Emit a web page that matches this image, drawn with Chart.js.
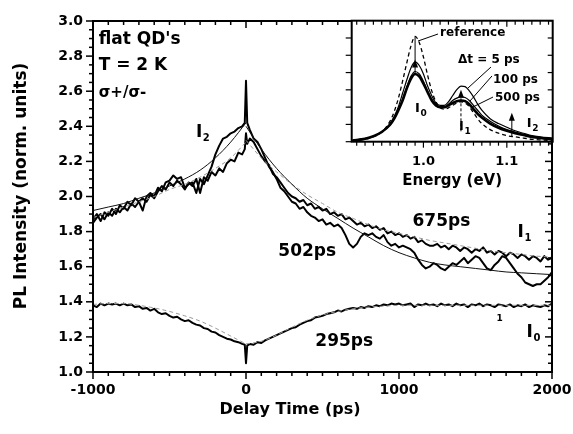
<!DOCTYPE html>
<html><head><meta charset="utf-8">
<script src="https://cdn.jsdelivr.net/npm/chart.js@4.4.1/dist/chart.umd.min.js"></script>
<style>
html,body{margin:0;padding:0;background:#fff;}
#wrap{position:relative;width:573px;height:434px;overflow:hidden;}
#main{position:absolute;left:0;top:0;}
#inset{position:absolute;left:330px;top:0;}
</style></head><body>
<div id="wrap"><canvas id="main" width="573" height="434"></canvas><canvas id="inset" width="243" height="200"></canvas></div>
<script>
// ---------------- main panel data ----------------
const delayTimes = [
-1000,-975,-950,-925,-900,-875,-850,-825,-800,-775,
-750,-725,-700,-675,-650,-625,-600,-575,-550,-525,
-500,-475,-450,-425,-400,-375,-350,-325,-300,-275,
-250,-225,-200,-175,-150,-125,-100,-75,-50,-25,
-8,0,8,
25,50,75,100,125,150,175,200,225,250,
275,300,325,350,375,400,425,450,475,500,
525,550,575,600,625,650,675,700,725,750,
775,800,825,850,875,900,925,950,975,1000,
1025,1050,1075,1100,1125,1150,1175,1200,1225,1250,
1275,1300,1325,1350,1375,1400,1425,1450,1475,1500,
1525,1550,1575,1600,1625,1650,1675,1700,1725,1750,
1775,1800,1825,1850,1875,1900,1925,1950,1975,2000];

const intensityI2 = [
1.87,1.90,1.86,1.91,1.89,1.93,1.90,1.95,1.93,1.97,
1.95,1.99,1.97,1.92,2.00,2.02,2.00,2.05,2.03,2.08,
2.09,2.12,2.10,2.11,2.05,2.07,2.08,2.02,2.10,2.07,
2.12,2.17,2.24,2.29,2.33,2.34,2.36,2.37,2.39,2.40,
2.42,2.66,2.42,
2.38,2.33,2.31,2.27,2.22,2.17,2.14,2.10,2.05,2.03,
2.00,1.97,1.96,1.93,1.94,1.91,1.89,1.88,1.86,1.87,
1.84,1.85,1.83,1.84,1.82,1.78,1.73,1.71,1.73,1.77,
1.79,1.78,1.79,1.77,1.76,1.78,1.74,1.72,1.73,1.71,
1.72,1.71,1.70,1.68,1.64,1.61,1.59,1.60,1.62,1.61,
1.59,1.58,1.60,1.62,1.61,1.63,1.65,1.62,1.64,1.66,
1.65,1.62,1.59,1.58,1.61,1.63,1.66,1.65,1.62,1.59,
1.56,1.54,1.51,1.50,1.49,1.50,1.50,1.52,1.54,1.57];

const intensityI1 = [
1.85,1.88,1.90,1.87,1.91,1.89,1.93,1.91,1.94,1.92,
1.96,1.94,1.97,1.99,1.97,2.01,1.99,2.03,2.06,2.04,
2.08,2.06,2.09,2.07,2.04,2.08,2.06,2.10,2.02,2.11,
2.09,2.14,2.12,2.16,2.14,2.19,2.21,2.20,2.25,2.24,
2.27,2.36,2.30,
2.33,2.31,2.27,2.23,2.20,2.18,2.13,2.11,2.08,2.05,
2.02,2.00,1.99,1.97,1.98,1.95,1.96,1.93,1.94,1.92,
1.93,1.90,1.91,1.89,1.90,1.87,1.88,1.86,1.84,1.85,
1.83,1.84,1.82,1.83,1.81,1.82,1.79,1.80,1.78,1.79,
1.77,1.78,1.76,1.77,1.74,1.75,1.73,1.72,1.72,1.73,
1.71,1.72,1.70,1.72,1.71,1.69,1.71,1.70,1.68,1.70,
1.69,1.71,1.68,1.69,1.67,1.69,1.68,1.66,1.68,1.67,
1.65,1.67,1.66,1.64,1.66,1.65,1.63,1.66,1.64,1.65];

const intensityI0 = [
1.38,1.37,1.39,1.38,1.39,1.385,1.39,1.38,1.39,1.38,
1.385,1.37,1.375,1.36,1.365,1.35,1.36,1.34,1.33,1.335,
1.32,1.31,1.315,1.30,1.29,1.295,1.28,1.27,1.265,1.25,
1.245,1.23,1.225,1.21,1.20,1.19,1.185,1.175,1.17,1.16,
1.155,1.05,1.15,
1.16,1.155,1.17,1.165,1.18,1.19,1.20,1.21,1.22,1.23,
1.24,1.25,1.255,1.27,1.28,1.29,1.295,1.31,1.315,1.32,
1.33,1.335,1.34,1.35,1.345,1.355,1.36,1.365,1.36,1.37,
1.365,1.375,1.37,1.38,1.375,1.385,1.38,1.39,1.385,1.39,
1.38,1.385,1.39,1.37,1.385,1.38,1.39,1.38,1.385,1.375,
1.39,1.38,1.385,1.375,1.39,1.38,1.385,1.37,1.385,1.38,
1.39,1.375,1.385,1.38,1.37,1.385,1.38,1.375,1.385,1.37,
1.38,1.375,1.385,1.37,1.38,1.375,1.37,1.38,1.375,1.39];

const fitTimesPre  = [-1000,-900,-800,-700,-600,-500,-400,-300,-200,-100,0];
const fitTimesPost = [0,100,200,300,400,500,600,700,800,900,1000,1100,1200,1300,1400,1500,1600,1700,1800,1900,2000];
const fitI2Pre  = [1.92,1.94,1.96,1.99,2.02,2.06,2.10,2.15,2.22,2.31,2.42];
const fitI2Post = [2.40,2.27,2.16,2.07,1.99,1.93,1.875,1.82,1.77,1.72,1.68,1.65,1.625,1.61,1.60,1.59,1.58,1.57,1.565,1.56,1.555];
const fitI1Pre  = [1.88,1.91,1.94,1.97,2.00,2.04,2.07,2.11,2.16,2.22,2.31];
const fitI1Post = [2.32,2.22,2.14,2.07,2.01,1.96,1.91,1.875,1.84,1.81,1.79,1.77,1.75,1.735,1.72,1.705,1.69,1.68,1.67,1.66,1.655];
const fitI0Pre  = [1.385,1.39,1.39,1.38,1.365,1.345,1.32,1.29,1.25,1.205,1.16];
const fitI0Post = [1.16,1.175,1.21,1.255,1.295,1.325,1.345,1.36,1.37,1.375,1.38,1.38,1.38,1.38,1.38,1.38,1.38,1.38,1.38,1.38,1.38];

const xTickValues = [-1000, 0, 1000, 2000];
const yTickValues = [1.0,1.2,1.4,1.6,1.8,2.0,2.2,2.4,2.6,2.8,3.0];

// ---------------- inset data ----------------
const energies = [0.915,0.93,0.94,0.95,0.96,0.965,0.97,0.975,0.98,0.985,0.99,0.995,1.0,1.005,1.01,1.015,1.02,1.025,1.03,1.035,1.04,1.045,1.05,1.055,1.06,1.065,1.07,1.08,1.09,1.10,1.11,1.12,1.13,1.14,1.155];
const specReference = [0.01,0.02,0.04,0.08,0.17,0.25,0.36,0.50,0.65,0.79,0.87,0.82,0.70,0.55,0.42,0.33,0.28,0.27,0.28,0.30,0.32,0.33,0.32,0.29,0.24,0.19,0.15,0.10,0.07,0.05,0.04,0.03,0.02,0.015,0.01];
const spec5ps   = [0.01,0.025,0.045,0.08,0.15,0.21,0.29,0.40,0.51,0.61,0.66,0.63,0.56,0.46,0.38,0.32,0.30,0.30,0.33,0.38,0.43,0.46,0.455,0.42,0.37,0.31,0.26,0.19,0.15,0.12,0.09,0.07,0.05,0.04,0.03];
const spec100ps = [0.01,0.025,0.045,0.08,0.14,0.19,0.26,0.35,0.45,0.54,0.58,0.56,0.50,0.42,0.35,0.31,0.29,0.29,0.31,0.34,0.36,0.37,0.365,0.34,0.30,0.26,0.22,0.17,0.13,0.10,0.08,0.06,0.045,0.035,0.025];
const spec500ps = [0.01,0.025,0.045,0.08,0.14,0.19,0.26,0.34,0.44,0.52,0.56,0.54,0.48,0.41,0.34,0.30,0.285,0.285,0.30,0.32,0.335,0.34,0.335,0.31,0.27,0.23,0.20,0.15,0.115,0.09,0.07,0.055,0.04,0.03,0.02];
const insetTickValues = [1.0, 1.1];

// ---------------- helpers ----------------
const FONT = "'DejaVu Sans', 'Liberation Sans', sans-serif";
Chart.defaults.font.family = FONT;
Chart.defaults.font.weight = 'bold';
Chart.defaults.color = '#000';
Chart.defaults.animation = false;

const pts = (xs, ys) => xs.map((x, i) => ({x: x, y: ys[i]}));
function seg(ctx, x1, y1, x2, y2) { ctx.beginPath(); ctx.moveTo(x1, y1); ctx.lineTo(x2, y2); ctx.stroke(); }
function txt(ctx, s, x, y, size, align, base) {
  ctx.font = 'bold ' + size + 'px ' + FONT;
  ctx.textAlign = align || 'left'; ctx.textBaseline = base || 'middle';
  ctx.fillText(s, x, y);
}
function subLabel(ctx, main, sub, x, y, size, subSize) {
  ctx.font = 'bold ' + size + 'px ' + FONT;
  ctx.textAlign = 'left'; ctx.textBaseline = 'alphabetic';
  ctx.fillText(main, x, y);
  const w = ctx.measureText(main).width;
  ctx.font = 'bold ' + subSize + 'px ' + FONT;
  ctx.fillText(sub, x + w + 0.5, y + subSize * 0.4);
}
function upArrow(ctx, x, yTip, len, half) {
  ctx.beginPath(); ctx.moveTo(x, yTip); ctx.lineTo(x - half, yTip + len); ctx.lineTo(x + half, yTip + len); ctx.closePath(); ctx.fill();
}
function noPad(s) { s.paddingLeft = 0; s.paddingRight = 0; s.paddingTop = 0; s.paddingBottom = 0; }

// ---------------- main chart ----------------
const mainDeco = {
  id: 'mainDeco',
  afterDraw(chart) {
    const {ctx, chartArea: a, scales: {x, y}} = chart;
    const X = v => x.getPixelForValue(v), Y = v => y.getPixelForValue(v);
    ctx.save();
    ctx.strokeStyle = '#000'; ctx.fillStyle = '#000';
    ctx.lineWidth = 1.5;
    for (let k = 0; k <= 30; k++) {
      const v = -1000 + k * 100, px = X(v), L = (k % 10 === 0) ? 7 : 4;
      seg(ctx, px, a.bottom, px, a.bottom + L);
      seg(ctx, px, a.top, px, a.top + L);
    }
    for (let k = 0; k <= 40; k++) {
      const v = 1 + k * 0.05, py = Y(v), L = (k % 4 === 0) ? 7 : 4;
      seg(ctx, a.left - L, py, a.left, py);
      seg(ctx, a.right - L, py, a.right, py);
    }
    ctx.lineWidth = 2;
    ctx.strokeRect(a.left, a.top, a.right - a.left, a.bottom - a.top);
    // axis titles
    txt(ctx, 'Delay Time (ps)', 290, 410, 16, 'center', 'middle');
    ctx.save(); ctx.translate(22, 186); ctx.rotate(-Math.PI / 2);
    txt(ctx, 'PL Intensity (norm. units)', 0, 0, 17, 'center', 'middle');
    ctx.restore();
    // annotations
    txt(ctx, "flat QD's", X(-963), Y(2.893), 17);
    txt(ctx, 'T = 2 K', X(-963), Y(2.748), 17);
    txt(ctx, 'σ+/σ-', X(-963), Y(2.588), 15);
    subLabel(ctx, 'I', '2', X(-327), Y(2.337), 17, 10);
    txt(ctx, '675ps', X(1277), Y(1.858), 17, 'center');
    subLabel(ctx, 'I', '1', X(1775), Y(1.768), 17, 10);
    txt(ctx, '502ps', X(400), Y(1.688), 17, 'center');
    txt(ctx, '295ps', X(642), Y(1.175), 17, 'center');
    subLabel(ctx, 'I', '0', X(1834), Y(1.198), 17, 10);
    txt(ctx, '1', X(1657), Y(1.306), 9, 'center');
    ctx.restore();
  }
};

const smooth = {pointRadius: 0, borderWidth: 1, cubicInterpolationMode: 'monotone', fill: false};
const noisy = {pointRadius: 0, borderWidth: 2, tension: 0, fill: false, borderColor: '#000', borderJoinStyle: 'round'};

new Chart(document.getElementById('main'), {
  type: 'line',
  data: {
    datasets: [
      Object.assign({label: 'I2 fit (502 ps)', data: pts(fitTimesPre, fitI2Pre), borderColor: '#111'}, smooth),
      Object.assign({label: 'I2 fit post', data: pts(fitTimesPost, fitI2Post), borderColor: '#111'}, smooth),
      Object.assign({label: 'I1 fit (675 ps)', data: pts(fitTimesPre, fitI1Pre), borderColor: '#9a9a9a', borderDash: [4, 3]}, smooth),
      Object.assign({label: 'I1 fit post', data: pts(fitTimesPost, fitI1Post), borderColor: '#9a9a9a', borderDash: [4, 3]}, smooth),
      Object.assign({label: 'I0 fit (295 ps)', data: pts(fitTimesPre, fitI0Pre), borderColor: '#9a9a9a', borderDash: [4, 3]}, smooth),
      Object.assign({label: 'I0 fit post', data: pts(fitTimesPost, fitI0Post), borderColor: '#9a9a9a', borderDash: [4, 3]}, smooth),
      Object.assign({label: 'I2', data: pts(delayTimes, intensityI2)}, noisy),
      Object.assign({label: 'I1', data: pts(delayTimes, intensityI1)}, noisy),
      Object.assign({label: 'I0', data: pts(delayTimes, intensityI0)}, noisy)
    ]
  },
  options: {
    responsive: false,
    devicePixelRatio: 1,
    layout: {padding: {left: 0, top: 21, right: 21, bottom: 0}},
    plugins: {legend: {display: false}, tooltip: {enabled: false}},
    scales: {
      x: {
        type: 'linear', min: -1000, max: 2000,
        grid: {display: false, drawTicks: false}, border: {display: false},
        afterBuildTicks: s => { s.ticks = xTickValues.map(v => ({value: v})); },
        afterFit: s => { s.height = 62; noPad(s); },
        ticks: {autoSkip: false, maxRotation: 0, padding: 10, font: {size: 14, weight: 'bold'}, color: '#000',
                callback: v => String(v)}
      },
      y: {
        type: 'linear', min: 1, max: 3,
        grid: {display: false, drawTicks: false}, border: {display: false},
        afterBuildTicks: s => { s.ticks = yTickValues.map(v => ({value: v})); },
        afterFit: s => { s.width = 93; noPad(s); },
        ticks: {autoSkip: false, padding: 10, font: {size: 14, weight: 'bold'}, color: '#000',
                callback: v => Number(v).toFixed(1)}
      }
    }
  },
  plugins: [mainDeco]
});

// ---------------- inset chart ----------------
const insetDeco = {
  id: 'insetDeco',
  beforeDraw(chart) {
    const {ctx, chartArea: a} = chart;
    ctx.save(); ctx.fillStyle = '#fff';
    ctx.fillRect(a.left, a.top, a.right - a.left, a.bottom - a.top);
    ctx.restore();
  },
  afterDraw(chart) {
    const {ctx, chartArea: a, scales: {x, y}} = chart;
    const X = v => x.getPixelForValue(v), Y = v => y.getPixelForValue(v);
    ctx.save();
    ctx.strokeStyle = '#000'; ctx.fillStyle = '#000';
    ctx.lineWidth = 1.2;
    for (let k = 0; k <= 23; k++) {
      const v = 0.92 + k * 0.01, px = X(v), major = (k === 8 || k === 18);
      seg(ctx, px, a.bottom, px, a.bottom + (major ? 6 : 4));
      seg(ctx, px, a.top, px, a.top + (major ? 6 : 4));
    }
    for (let k = 0; k <= 7; k++) {
      const py = Y(k / 7);
      seg(ctx, a.left - 6, py, a.left, py);
      seg(ctx, a.right - 5, py, a.right, py);
    }
    ctx.lineWidth = 2;
    ctx.strokeRect(a.left, a.top, a.right - a.left, a.bottom - a.top);
    // arrows
    ctx.lineWidth = 1;
    seg(ctx, X(0.99), Y(0.87), X(0.99), Y(0.56));
    upArrow(ctx, X(0.99), Y(0.68), 8, 3);
    ctx.setLineDash([3, 2]);
    seg(ctx, X(1.045), Y(0.40), X(1.045), Y(0.07));
    ctx.setLineDash([]);
    upArrow(ctx, X(1.045), Y(0.43), 8, 3);
    seg(ctx, X(1.106), Y(0.04), X(1.106), Y(0.20));
    upArrow(ctx, X(1.106), Y(0.24), 8, 3);
    // leader lines
    seg(ctx, X(1.0175), Y(0.89), X(0.9935), Y(0.832));
    seg(ctx, X(1.081), Y(0.617), X(1.0535), Y(0.444));
    seg(ctx, X(1.0822), Y(0.543), X(1.0558), Y(0.336));
    seg(ctx, X(1.0834), Y(0.369), X(1.0594), Y(0.287));
    // labels
    txt(ctx, 'reference', X(1.020), Y(0.898), 12);
    txt(ctx, 'Δt = 5 ps', X(1.0415), Y(0.675), 12);
    txt(ctx, '100 ps', X(1.0834), Y(0.51), 12);
    txt(ctx, '500 ps', X(1.0858), Y(0.361), 12);
    subLabel(ctx, 'I', '0', X(0.990), Y(0.245), 13, 9);
    subLabel(ctx, 'I', '1', X(1.0427), Y(0.097), 13, 9);
    subLabel(ctx, 'I', '2', X(1.124), Y(0.121), 13, 9);
    ctx.restore();
  }
};

const spec = {pointRadius: 0, cubicInterpolationMode: 'monotone', fill: false, borderColor: '#000'};
new Chart(document.getElementById('inset'), {
  type: 'line',
  data: {
    datasets: [
      Object.assign({label: 'reference', data: pts(energies, specReference), borderWidth: 1.3, borderDash: [4, 3]}, spec),
      Object.assign({label: 'Δt = 5 ps', data: pts(energies, spec5ps), borderWidth: 1.2}, spec),
      Object.assign({label: '100 ps', data: pts(energies, spec100ps), borderWidth: 1.2}, spec),
      Object.assign({label: '500 ps', data: pts(energies, spec500ps), borderWidth: 2.6}, spec)
    ]
  },
  options: {
    responsive: false,
    devicePixelRatio: 1,
    layout: {padding: {left: 21.7, top: 20.7, right: 20.3, bottom: 0}},
    plugins: {legend: {display: false}, tooltip: {enabled: false}},
    scales: {
      x: {
        type: 'linear', min: 0.914, max: 1.155,
        grid: {display: false, drawTicks: false}, border: {display: false},
        afterBuildTicks: s => { s.ticks = insetTickValues.map(v => ({value: v})); },
        afterFit: s => { s.height = 58.3; noPad(s); },
        ticks: {autoSkip: false, maxRotation: 0, padding: 12, font: {size: 13, weight: 'bold'}, color: '#000',
                callback: v => Number(v).toFixed(1)},
        title: {display: true, text: 'Energy (eV)', font: {size: 15, weight: 'bold'}, color: '#000', padding: {top: 0, bottom: 10}}
      },
      y: {type: 'linear', min: 0, max: 1, display: false}
    }
  },
  plugins: [insetDeco]
});
</script>
</body></html>
